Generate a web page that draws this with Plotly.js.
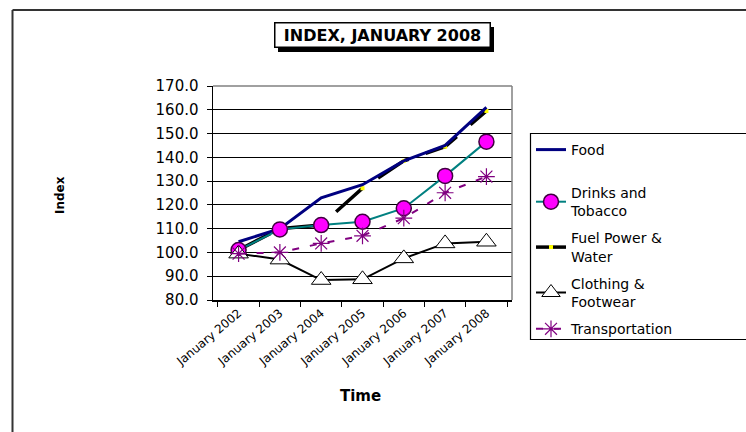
<!DOCTYPE html>
<html><head><meta charset="utf-8">
<script src="https://cdn.plot.ly/plotly-3.0.1.min.js"></script>
<style>body{margin:0;background:#fff}#c{width:746px;height:432px}</style>
</head><body><div id="c"></div>
<script>
const categories = ["January 2002","January 2003","January 2004","January 2005","January 2006","January 2007","January 2008"];
const food = [104.5, 110.0, 123.0, 128.5, 138.5, 145.0, 161.0];
const drinks = [101.0, 109.7, 111.5, 112.9, 118.6, 132.2, 146.6];
const fuel = [101.0, 110.0, 111.5, 127.0, 138.5, 144.5, 159.5];
const clothing = [99.5, 97.0, 88.4, 88.7, 97.5, 103.8, 104.5];
const transport = [99.5, 100.0, 103.8, 107.0, 114.4, 125.1, 131.9];
const names = ["Food","Drinks and<br>Tobacco","Fuel Power &<br>Water","Clothing &<br>Footwear","Transportation"];

const F = "'DejaVu Sans', Verdana, sans-serif";
const traces = [
  {x: categories, y: fuel, name: names[2], mode: "lines+markers", legend: "legend2", legendrank: 3, legendgroup: "c",
   line: {color: "#000000", width: 3.5, dash: "36px,18px"},
   marker: {symbol: "square", size: 4, color: "#FFFF00"}},
  {x: categories, y: food, name: names[0], mode: "lines", legend: "legend", legendrank: 1, legendgroup: "a",
   line: {color: "#000080", width: 3}},
  {x: categories, y: drinks, name: names[1], mode: "lines+markers", legend: "legend2", legendrank: 2, legendgroup: "b",
   line: {color: "#008080", width: 2},
   marker: {symbol: "circle", size: 15, color: "#FF00FF", line: {color: "#400040", width: 1.5}}},
  {x: categories, y: clothing, name: names[3], mode: "lines+markers", legend: "legend2", legendrank: 4, legendgroup: "d",
   line: {color: "#000000", width: 2},
   marker: {symbol: "triangle-up", size: 17, color: "#FFFFFF", line: {color: "#000000", width: 1}}},
  {x: categories, y: transport, name: names[4], mode: "lines+markers", legend: "legend2", legendrank: 5, legendgroup: "e",
   line: {color: "#800080", width: 2, dash: "7px,11px"},
   marker: {symbol: "asterisk-open", size: 14, color: "#800080", line: {color: "#800080", width: 1.2}}}
];

const X = px => (px - 213) / 299;
const Y = py => (300 - py) / 214;
const legFont = {family: F, size: 14, color: "#000"};

const layout = {
  width: 746, height: 432,
  margin: {l: 213, r: 234, t: 86, b: 132},
  paper_bgcolor: "#fff", plot_bgcolor: "#fff",
  font: {family: F, color: "#000", size: 12},
  showlegend: true,
  legend: {x: X(531), y: Y(134), xanchor: "left", yanchor: "top",
    borderwidth: 0, bgcolor: "rgba(0,0,0,0)", font: legFont},
  legend2: {x: X(531), y: Y(177), xanchor: "left", yanchor: "top",
    borderwidth: 0, bgcolor: "rgba(0,0,0,0)", font: legFont,
    traceorder: "grouped", tracegroupgap: 6},
  xaxis: {type: "category", tickson: "boundaries", ticks: "outside", ticklen: 5, tickcolor: "#000",
    showline: true, linecolor: "#000", linewidth: 1.5, showgrid: false, zeroline: false,
    tickangle: -40, tickfont: {family: F, size: 12}},
  yaxis: {range: [80, 170], dtick: 10, tickformat: ".1f", ticks: "outside", ticklen: 5, tickcolor: "#000",
    showline: true, linecolor: "#000", linewidth: 1.5, showgrid: true, gridcolor: "#000", gridwidth: 1,
    zeroline: false, ticklabelstandoff: 5, tickfont: {family: F, size: 15}},
  shapes: [
    {type: "line", xref: "paper", yref: "paper", x0: 0, x1: 1, y0: 1, y1: 1, line: {color: "#808080", width: 1.5}},
    {type: "line", xref: "paper", yref: "paper", x0: 1, x1: 1, y0: 0, y1: 1, line: {color: "#808080", width: 1.5}},
    {type: "line", xref: "paper", yref: "paper", x0: X(12.5), x1: X(12.5), y0: Y(10), y1: Y(440), line: {color: "#333", width: 2}},
    {type: "line", xref: "paper", yref: "paper", x0: X(12.5), x1: X(760), y0: Y(10), y1: Y(10), line: {color: "#333", width: 2}},
    {type: "rect", xref: "paper", yref: "paper", layer: "below", x0: X(530.5), x1: X(770), y0: Y(133.5), y1: Y(339.5),
     fillcolor: "rgba(0,0,0,0)", line: {color: "#000", width: 1.2}},
    {type: "rect", xref: "paper", yref: "paper", layer: "below", x0: X(278), x1: X(494), y0: Y(27), y1: Y(52), fillcolor: "#000", line: {width: 0}}
  ],
  annotations: [
    {text: "<b>INDEX, JANUARY 2008</b>", xref: "paper", yref: "paper", x: X(382), y: Y(35),
     xanchor: "center", yanchor: "middle", showarrow: false,
     width: 212, height: 21, borderpad: 1, borderwidth: 1.5, bordercolor: "#000", bgcolor: "#fff",
     font: {family: F, size: 16, color: "#000"}},
    {text: "<b>Index</b>", xref: "paper", yref: "paper", x: X(51), y: Y(195), showarrow: false, textangle: -90,
     font: {family: F, size: 12, color: "#000"}},
    {text: "<b>Time</b>", xref: "paper", yref: "paper", x: X(360), y: Y(407), showarrow: false,
     font: {family: F, size: 15, color: "#000"}}
  ]
};
Plotly.newPlot("c", traces, layout, {displayModeBar: false, staticPlot: true});
</script></body></html>
